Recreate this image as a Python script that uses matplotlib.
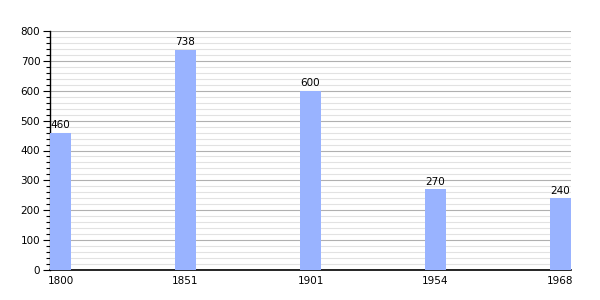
import matplotlib
matplotlib.use("Agg")
import matplotlib.pyplot as plt
from matplotlib.ticker import MultipleLocator

years = ["1800", "1851", "1901", "1954", "1968"]
population = [460, 738, 600, 270, 240]

fig = plt.figure(figsize=(6, 3), dpi=100)
ax = fig.add_axes([50 / 600, 30 / 300, 521 / 600, 239 / 300])

w = 0.168
x = list(range(len(years)))
ax.bar(x, population, width=w, color="#99b3ff", zorder=3)
for xi, v in zip(x, population):
  ax.text(xi, v + 8, str(v), ha="center", va="bottom", fontsize=7.5, color="black")

ax.set_xlim(-w / 2, len(years) - 1 + w / 2)
ax.set_ylim(0, 800)
ax.yaxis.set_major_locator(MultipleLocator(100))
ax.yaxis.set_minor_locator(MultipleLocator(20))
ax.grid(which="major", axis="y", color="#b0b0b0", lw=0.8, zorder=1)
ax.grid(which="minor", axis="y", color="#e2e2e2", lw=0.8, zorder=0)
ax.set_xticks(x)
ax.set_xticklabels(years)
ax.tick_params(axis="x", length=0, pad=4, labelsize=7.5)
ax.tick_params(axis="y", which="major", length=5, width=0.8, labelsize=7.5, pad=2)
ax.tick_params(axis="y", which="minor", length=3, width=0.8)
for s in ["top", "right"]:
  ax.spines[s].set_visible(False)
ax.spines["left"].set_linewidth(1)
ax.spines["bottom"].set_linewidth(1.2)

fig.savefig("out.png", dpi=100)
